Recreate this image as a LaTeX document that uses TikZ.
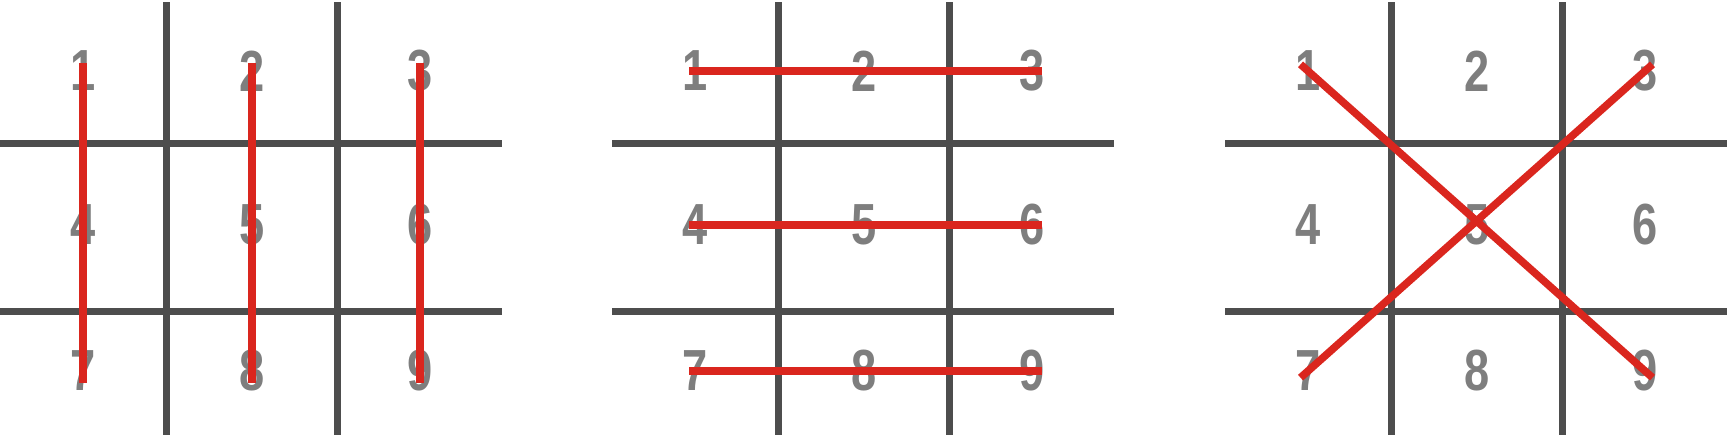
\documentclass[tikz,border=0pt]{standalone}
\usepackage{fontspec}
\setmainfont{Liberation Sans}[FakeStretch=0.78]
\usepackage{xcolor}
\usepackage{tikz}

\definecolor{gridgray}{HTML}{4D4D4D}
\definecolor{digitgray}{HTML}{7E7E7E}
\definecolor{strikered}{HTML}{DA261E}

\begin{document}
\begin{tikzpicture}[
  x=0.5pt, y=-0.5pt,
  grid/.style={gridgray, line width=3.5pt},
  digit/.style={inner sep=0pt, text=digitgray, font=\fontsize{29}{29}\selectfont\bfseries},
  strike/.style={strikered, line width=3.8pt},
  extend/.style={shorten <=-#1, shorten >=-#1}
]
\useasboundingbox (0,0) rectangle (1727,435);

% the three boards
\foreach \ox in {0,612,1225} {
  \draw[grid] (\ox+166,2) -- (\ox+166,435);
  \draw[grid] (\ox+337,2) -- (\ox+337,435);
  \draw[grid] (\ox,143) -- (\ox+502,143);
  \draw[grid] (\ox,311) -- (\ox+502,311);
}

% cell numbers
\foreach \p/\ox in {a/0, b/612, c/1225} {
  \foreach \n/\cx/\cy in {1/83/71, 2/252/71, 3/420/71,
                          4/83/225, 5/252/225, 6/420/225,
                          7/83/371, 8/252/371, 9/420/371}
    \node[digit] (\p\n) at (\ox+\cx,\cy) {\n};
}

% columns
\draw[strike, shorten <=-4pt, shorten >=-6pt] (a1.center) -- (a7.center);
\draw[strike, shorten <=-4pt, shorten >=-6pt] (a2.center) -- (a8.center);
\draw[strike, shorten <=-4pt, shorten >=-6pt] (a3.center) -- (a9.center);

% rows
\draw[strike, yshift=1pt, shorten <=-3pt, shorten >=-5pt] (b1.center) -- (b3.center);
\draw[strike, yshift=1pt, shorten <=-3pt, shorten >=-5pt] (b4.center) -- (b6.center);
\draw[strike, shorten <=-3pt, shorten >=-5pt] (b7.center) -- (b9.center);

% diagonals
\draw[strike, extend=5pt] (c1.center) -- (c9.center);
\draw[strike, extend=5pt] (c7.center) -- (c3.center);
\end{tikzpicture}
\end{document}
